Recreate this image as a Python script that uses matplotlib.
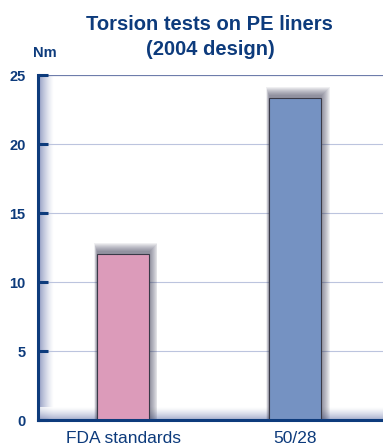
import matplotlib.pyplot as plt
import numpy as np
from matplotlib.patches import Rectangle
from matplotlib.colors import LinearSegmentedColormap

categories = ["FDA standards", "50/28"]
torque_nm = [12.0, 23.3]
bar_colors = ["#dc9bba", "#7592c2"]
yticks = [0, 5, 10, 15, 20, 25]

navy = "#0d3b7c"

plt.rcParams['font.family'] = ['Liberation Sans', 'DejaVu Sans']

fig = plt.figure(figsize=(3.83, 4.48), dpi=100)
ax = fig.add_axes([0.0992, 0.0625, 0.9008, 0.770])

x = np.arange(len(categories))
width = 0.3

# soft drop shadow behind each bar, thrown up and to the right
for xi, h in zip(x, torque_nm):
    for k in range(9, 0, -1):
        left = xi - width / 2 - 0.002 * k
        right = xi + width / 2 + 0.0055 * k
        ax.add_patch(Rectangle((left, -0.2), right - left,
                               h + 0.2 + 0.075 * k + 0.15,
                               facecolor="#2c2e48", edgecolor="none",
                               alpha=0.075, zorder=2))

ax.bar(x, torque_nm, width=width, color=bar_colors, edgecolor="#3a3a48",
       linewidth=0.8, zorder=3)

# gridlines and top rule
for t in yticks[1:-1]:
    ax.axhline(t, color="#bcc4de", linewidth=0.8, zorder=1)
ax.axhline(25, color="#6e7dab", linewidth=1.6, zorder=1)

# shading along the left and bottom axis lines
shade = LinearSegmentedColormap.from_list("shade", ["#ffffff", "#8e98c0"])
grad = np.linspace(1, 0, 64) ** 1.3
ax.imshow(grad.reshape(1, -1), extent=[0, 0.045, 0, 1], transform=ax.transAxes,
          cmap=shade, vmin=0, vmax=1, aspect="auto", zorder=0)
ax.imshow(grad[::-1].reshape(-1, 1), extent=[0, 1, 0, 0.035],
          transform=ax.transAxes, cmap=shade, vmin=0, vmax=1,
          aspect="auto", zorder=0, alpha=0.8)

ax.set_xlim(-0.495, 1.51)
ax.set_ylim(0, 25)
ax.set_yticks(yticks)
ax.set_xticks(x)
ax.set_xticklabels(categories)

for side in ["top", "right"]:
    ax.spines[side].set_visible(False)
for side in ["left", "bottom"]:
    ax.spines[side].set_color(navy)
    ax.spines[side].set_linewidth(2.2)
    ax.spines[side].set_zorder(5)

ax.tick_params(axis="y", direction="in", length=7, width=2.2, color=navy,
               labelcolor=navy, labelsize=10.5, pad=9)
for lbl in ax.get_yticklabels():
    lbl.set_fontweight("bold")
ax.tick_params(axis="x", length=0, labelcolor=navy, labelsize=12.5, pad=8)

fig.text(0.548, 0.918, "Torsion tests on PE liners\n(2004 design)",
         ha="center", va="center", fontsize=14.5, fontweight="bold",
         color=navy, linespacing=1.38)
fig.text(0.118, 0.882, "Nm", ha="center", va="center", fontsize=10.5,
         fontweight="bold", color=navy)

fig.savefig("out.png", dpi=100)
